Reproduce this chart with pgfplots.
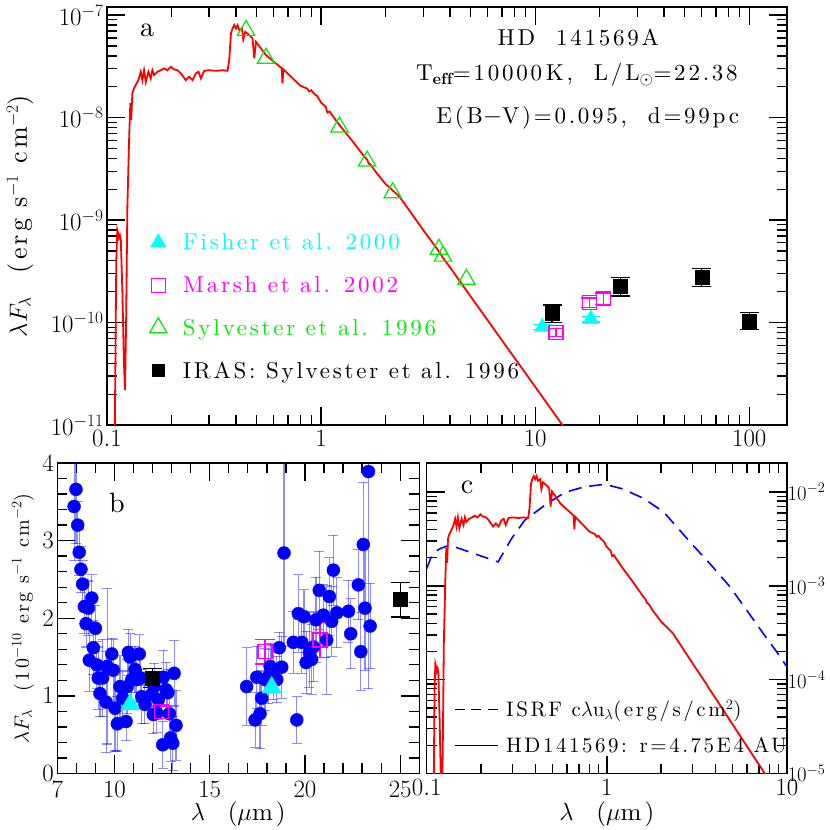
\documentclass[border=0pt]{standalone}
\usepackage{fontspec}
\setmainfont{lmroman10-regular.otf}[BoldFont=lmroman10-bold.otf, LetterSpace=12]
\usepackage{pgfplots}
\pgfplotsset{compat=1.18}
\usepackage{pgfplotstable}
\definecolor{cy}{rgb}{0,1,1}
\definecolor{mg}{rgb}{1,0,1}
\definecolor{gr}{rgb}{0,0.93,0}

\pgfplotstableread{
lam F
0.1085 5.0e-12
0.1105 4.0e-10
0.1117 7.98e-10
0.1128 7.4e-10
0.1138 6.67e-10
0.1150 7.1e-10
0.1160 6.5e-10
0.1180 2.0e-10
0.1200 4.0e-11
0.1214 2.19e-11
0.1228 1.0e-10
0.1245 1.34e-9
0.1268 6.0e-9
0.1285 1.38e-8
0.1298 9.5e-9
0.1313 1.72e-8
0.1337 1.93e-8
0.1362 2.08e-8
0.1401 2.32e-8
0.1438 2.80e-8
0.1463 2.32e-8
0.1490 2.90e-8
0.1518 2.23e-8
0.1561 2.80e-8
0.1601 2.41e-8
0.1629 2.90e-8
0.1660 2.60e-8
0.1719 2.80e-8
0.1784 2.90e-8
0.1848 3.02e-8
0.1915 2.90e-8
0.1987 3.13e-8
0.2058 2.95e-8
0.2133 2.90e-8
0.2213 2.70e-8
0.2335 2.32e-8
0.2418 2.50e-8
0.2507 2.32e-8
0.2601 2.70e-8
0.2675 2.80e-8
0.2745 2.41e-8
0.2844 2.86e-8
0.3001 2.90e-8
0.3226 2.86e-8
0.3464 2.90e-8
0.3656 2.86e-8
0.3724 3.64e-8
0.3793 6.63e-8
0.3858 7.41e-8
0.3930 7.98e-8
0.4002 7.41e-8
0.4071 7.98e-8
0.4147 7.14e-8
0.4270 7.41e-8
0.4330 5.80e-8
0.4423 6.87e-8
0.4618 6.38e-8
0.4785 5.93e-8
0.4874 3.79e-8
0.4964 5.49e-8
0.553 4.07e-8
0.640 3.15e-8
0.655 3.02e-8
0.660 2.16e-8
0.667 2.95e-8
0.80 2.05e-8
0.86 1.92e-8
0.88 1.80e-8
0.90 1.85e-8
0.93 1.70e-8
0.96 1.62e-8
1.00 1.40e-8
1.05 1.28e-8
1.07 1.12e-8
1.094 1.15e-8
1.20 8.8e-9
1.40 5.9e-9
1.60 4.1e-9
1.64 3.9e-9
1.67 3.55e-9
1.70 3.5e-9
1.80 2.95e-9
2.00 2.25e-9
2.325 1.69e-9
3.00 8.0e-10
3.60 4.75e-10
3.65 4.5e-10
4.00 3.46e-10
5.00 1.79e-10
7.00 6.69e-11
10.0 2.36e-11
13.4 1.0e-11
15.0 7.2e-12
}\spec

\pgfplotstableread{
lam F
0.100 1.53e-3
0.105 1.95e-3
0.1107 2.31e-3
0.120 2.52e-3
0.134 2.72e-3
0.249 1.80e-3
0.296 3.20e-3
0.350 5.0e-3
0.453 7.26e-3
0.585 9.93e-3
0.755 1.14e-2
0.975 1.21e-2
1.227 1.08e-2
1.59 8.6e-3
2.06 6.17e-3
2.44 4.27e-3
3.0 2.72e-3
3.73 1.73e-3
4.82 9.8e-4
5.98 5.5e-4
7.39 3.1e-4
8.77 1.98e-4
10.0 1.37e-4
}\isrf

\pgfplotstableread{
l f e
7.88 3.44 0.70
7.98 3.66 0.70
8.07 3.20 0.30
8.15 2.85 0.30
8.24 2.63 0.30
8.33 2.44 0.30
8.42 2.15 0.35
8.51 1.93 0.30
8.63 2.13 0.35
8.68 1.46 0.40
8.81 2.26 0.30
8.89 1.62 0.35
9.00 1.87 0.30
9.07 1.40 0.30
9.15 1.23 0.40
9.24 1.03 0.30
9.38 1.23 0.50
9.56 0.92 0.65
9.62 1.38 1.00
9.86 1.54 0.20
9.94 1.33 0.40
10.03 0.84 0.55
10.15 0.64 0.35
10.29 1.12 0.40
10.43 0.97 0.35
10.61 0.67 0.25
10.67 1.12 0.35
10.73 1.56 0.30
10.82 1.50 0.30
10.91 1.21 0.35
11.08 1.34 0.30
11.17 1.21 0.30
11.30 1.54 0.25
11.38 1.23 0.30
11.43 0.99 0.35
11.60 0.89 0.25
11.96 1.02 0.25
12.04 0.76 0.25
12.08 1.12 0.30
12.22 0.78 0.25
12.30 0.95 0.25
12.53 0.37 0.30
12.56 1.24 0.35
12.71 1.08 0.35
12.80 1.04 0.30
12.88 0.77 0.30
12.95 0.46 0.30
13.06 0.39 0.35
13.13 1.29 0.42
13.23 0.62 0.45
16.94 1.12 0.50
17.38 0.69 0.35
17.47 1.24 0.40
17.64 0.77 0.45
17.73 0.97 0.35
17.90 1.21 0.40
18.08 1.25 0.35
18.17 1.38 0.30
18.34 1.30 0.35
18.52 1.21 0.30
18.65 1.62 0.20
18.78 1.37 0.40
18.90 2.84 1.20
19.39 1.69 0.40
19.57 0.69 0.30
19.65 2.06 0.50
19.83 1.69 0.40
19.95 2.02 0.35
20.06 1.43 0.40
20.23 1.56 0.45
20.35 1.47 0.45
20.44 1.63 0.45
20.58 1.98 0.55
20.75 2.36 0.50
20.96 2.04 0.40
21.14 1.72 0.70
21.28 2.28 0.50
21.40 1.96 0.45
21.49 2.62 0.45
21.67 2.07 0.45
22.28 2.09 0.40
22.40 1.80 0.45
22.80 2.43 0.45
22.93 1.57 0.50
23.06 2.95 0.80
23.15 2.13 0.80
23.33 3.89 2.80
23.42 1.90 0.55
}\irs

\pgfplotsset{
  sedax/.style={
    scale only axis,
    axis line style={line width=1.5pt},
    every tick/.style={line width=1.3pt, black},
    major tick length=18pt,
    minor tick length=10pt,
    tick align=inside,
    ticklabel style={font=\fontsize{25}{27}\selectfont},
    label style={font=\fontsize{25}{29}\selectfont},
  },
  fixedx/.style={xticklabel={\pgfmathparse{exp(\tick)}\pgfmathprintnumber[fixed, precision=1]{\pgfmathresult}}},
  ebar/.style 2 args={error bars/.cd, y dir=both, y explicit,
    error bar style={#1, line width=1.3pt},
    error mark options={#1, rotate=90, line width=1.3pt, mark size=#2}},
}

\begin{document}
\begin{tikzpicture}
\useasboundingbox (0,0) rectangle (830pt,830pt);

% ---------------- panel a ----------------
\begin{axis}[sedax,
  at={(107pt,405pt)}, anchor=south west,
  width=680pt, height=418pt,
  xmode=log, ymode=log,
  xmin=0.1, xmax=150, ymin=1e-11, ymax=1.2e-7,
  fixedx,
  xticklabel style={yshift=-2pt},
  ylabel={$\lambda F_\lambda$ \ (erg s$^{-1}$ cm$^{-2}$)},
  ylabel style={at={(axis description cs:-0.128,0.5)}, anchor=center, font=\fontsize{26}{30}\selectfont},
  legend style={draw=none, fill=none, at={(0.058,0.467)}, anchor=north west,
    font=\fontsize{23}{26}\selectfont, row sep=21pt,
    /tikz/every odd column/.append style={column sep=14pt}},
  legend cell align=left,
]
\addplot[red, line width=1.8pt, forget plot] table[x=lam, y=F] {\spec};

% Sylvester et al. 1996 (optical/NIR)
\addplot[only marks, mark=triangle, mark size=10pt, gr, mark options={line width=1.2pt}, forget plot] coordinates {
(0.446,7.1e-8) (0.553,3.8e-8) (1.218,8.1e-9) (1.64,3.77e-9) (2.16,1.85e-9) (3.55,5.2e-10) (3.71,4.45e-10) (4.77,2.64e-10)};

% Fisher et al. 2000
\addplot[only marks, mark=triangle*, mark size=9pt, cy, forget plot, ebar={cy}{9pt}]
  table[x=l, y=f, y error=e] {
l f e
10.8 9.0e-11 0.5e-11
18.2 1.08e-10 0.7e-11
};

% Marsh et al. 2002
\addplot[only marks, mark=square, mark size=7pt, mg, mark options={line width=1.2pt}, forget plot, ebar={mg}{8pt}]
  table[x=l, y=f, y error=e] {
l f e
12.5 8.0e-11 0.7e-11
17.9 1.57e-10 0.16e-10
20.8 1.72e-10 0.22e-10
};

% IRAS
\addplot[only marks, mark=square*, mark size=7pt, black, forget plot, ebar={black}{9.5pt}]
  table[x=l, y=f, y error plus=ep, y error minus=em] {
l f ep em
12 1.23e-10 0.25e-10 0.23e-10
25 2.27e-10 0.46e-10 0.45e-10
60 2.80e-10 0.57e-10 0.57e-10
100 1.04e-10 0.22e-10 0.19e-10
};

\addlegendimage{only marks, mark=triangle*, mark size=9pt, cy}
\addlegendentry{\textcolor{cy}{Fisher et al. 2000}}
\addlegendimage{only marks, mark=square, mark size=7pt, mg, mark options={line width=1.2pt}}
\addlegendentry{\textcolor{mg}{Marsh et al. 2002}}
\addlegendimage{only marks, mark=triangle, mark size=10pt, gr, mark options={line width=1.2pt}}
\addlegendentry{\textcolor{gr}{Sylvester et al. 1996}}
\addlegendimage{only marks, mark=square*, mark size=6pt, black}
\addlegendentry{IRAS: Sylvester et al. 1996}

\node[font=\fontsize{28}{30}\selectfont] at (axis description cs:0.059,0.945) {a};
\node[font=\fontsize{23}{26}\selectfont] at (axis description cs:0.693,0.928) {HD\ \ 141569A};
\node[font=\fontsize{23}{26}\selectfont] at (axis description cs:0.691,0.837) {T$_{\mathbf{eff}}$=10000\,K, \ L/L$_\odot$=22.38};
\node[font=\fontsize{23}{26}\selectfont] at (axis description cs:0.707,0.734) {E(B$-$V)=0.095, \ d=99pc};
\end{axis}

% ---------------- panel b ----------------
\begin{axis}[sedax,
  at={(57.3pt,56.5pt)}, anchor=south west,
  width=362pt, height=310.5pt,
  xmin=7, xmax=26, ymin=0, ymax=4,
  xtick={7,10,15,20,25},
  minor xtick={8,9,11,12,13,14,16,17,18,19,21,22,23,24,26},
  ytick={0,1,2,3,4},
  minor ytick={0.2,0.4,...,3.9},
  xticklabel style={yshift=-4pt},
  xlabel={$\lambda$ \ ($\mu$m)},
  xlabel style={at={(axis description cs:0.5,-0.13)}, anchor=center},
  ylabel={$\lambda F_\lambda$ \ (10$^{-10}$ erg s$^{-1}$ cm$^{-2}$)},
  ylabel style={at={(axis description cs:-0.095,0.5)}, anchor=center, font=\fontsize{20}{24}\selectfont},
]
\addplot[only marks, mark=*, mark size=6.5pt, blue,
  error bars/.cd, y dir=both, y explicit,
  error bar style={blue, opacity=0.45, line width=1.1pt},
  error mark options={blue, opacity=0.45, rotate=90, mark size=5pt, line width=1.1pt}]
  table[x=l, y=f, y error=e] {\irs};

\addplot[only marks, mark=triangle*, mark size=11pt, cy, ebar={cy}{10pt}]
  table[x=l, y=f, y error=e] {
l f e
10.82 0.89 0.05
18.25 1.11 0.07
};

\addplot[only marks, mark=square, mark size=7pt, mg, mark options={line width=1.4pt}, ebar={mg}{10pt}]
  table[x=l, y=f, y error=e] {
l f e
12.48 0.80 0.07
17.90 1.57 0.16
20.79 1.72 0.23
};

\addplot[only marks, mark=square*, mark size=7pt, black, ebar={black}{9.5pt}]
  table[x=l, y=f, y error=e] {
l f e
12.0 1.23 0.125
25.0 2.24 0.225
};

\node[font=\fontsize{28}{30}\selectfont] at (axis description cs:0.165,0.871) {b};
\end{axis}

% ---------------- panel c ----------------
\begin{axis}[sedax,
  at={(426.7pt,56.5pt)}, anchor=south west,
  width=360.3pt, height=310.5pt,
  xmode=log, ymode=log,
  xmin=0.1, xmax=10, ymin=1e-5, ymax=2.04e-2,
  fixedx,
  xticklabel style={yshift=-2pt},
  yticklabel pos=right,
  ytick pos=both,
  yticklabel style={inner sep=0.5pt, font=\fontsize{21}{23}\selectfont},
  xlabel={$\lambda$ \ ($\mu$m)},
  xlabel style={at={(axis description cs:0.5,-0.132)}, anchor=center},
  legend style={draw=none, fill=none, at={(0.067,0.25)}, anchor=north west,
    font=\fontsize{21}{24}\selectfont, row sep=15pt,
    /tikz/every odd column/.append style={column sep=6pt}},
  legend cell align=left,
  legend image code/.code={\draw[#1] (0pt,0pt) -- (43pt,0pt);},
]
\addplot[blue, line width=1.6pt, dash pattern=on 13pt off 8pt, forget plot] table[x=lam, y=F] {\isrf};
\addplot[red, line width=1.8pt, forget plot] table[x=lam, y expr=\thisrow{F}*1.85e5] {\spec};

\addlegendimage{black, line width=1.2pt, dash pattern=on 10pt off 6.5pt}
\addlegendentry{ISRF c$\lambda$u$_\lambda$(erg/s/cm$^2$)}
\addlegendimage{black, line width=1.2pt}
\addlegendentry{HD141569: r=4.75E4 AU}

\node[font=\fontsize{28}{30}\selectfont] at (axis description cs:0.112,0.923) {c};
\end{axis}
\end{tikzpicture}
\end{document}
